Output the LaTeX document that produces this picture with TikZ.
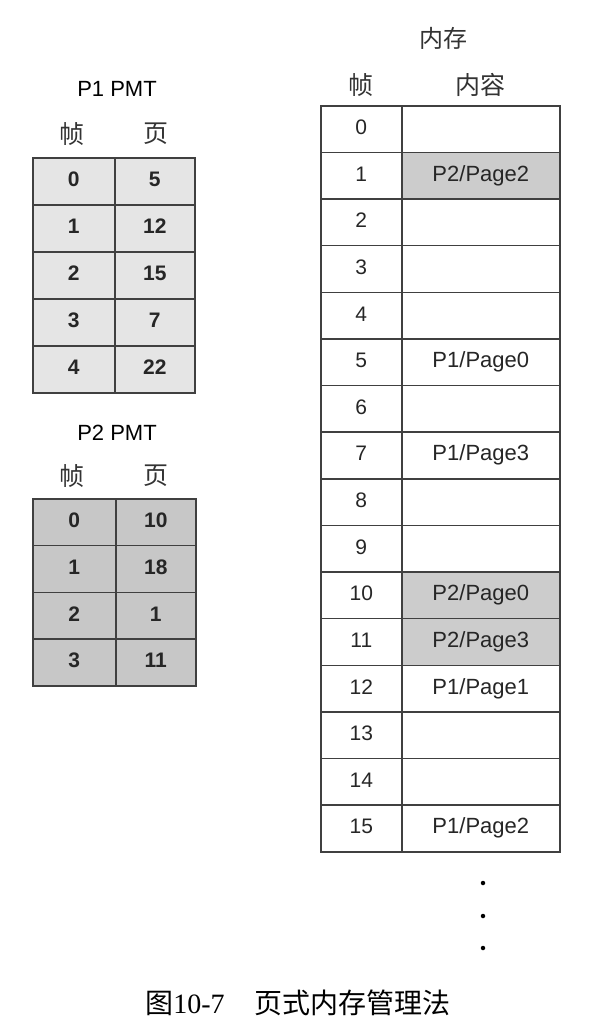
\documentclass[tikz,border=0pt]{standalone}
\usepackage{fontspec}
\setmainfont{Liberation Sans}
\newfontfamily\cjk{Noto Sans CJK SC}
\newfontfamily\capnum{Liberation Serif}
\definecolor{lineclr}{gray}{0.25}
\definecolor{pa}{gray}{0.9}
\definecolor{pb}{gray}{0.78}
\definecolor{mb}{gray}{0.8}
\newcommand{\myslash}{/}
\begin{document}
\begin{tikzpicture}[x=1pt,y=-1pt,
  cell/.style={draw=lineclr, line width=1.6pt, inner sep=0pt, anchor=north west,
    text height=15pt, text depth=4pt, text=black!85},
  pmtA/.style={cell, fill=pa, minimum height=47pt, font=\bfseries\fontsize{21}{21}\selectfont},
  pmtB/.style={cell, fill=pb, minimum height=46.75pt, font=\bfseries\fontsize{21}{21}\selectfont},
  mem/.style={cell, minimum height=46.625pt, font=\fontsize{21}{21}\selectfont},
  title/.style={inner sep=0pt, font=\fontsize{22}{22}\selectfont},
  head/.style={inner sep=0pt, font=\cjk\fontsize{25}{25}\selectfont, text=black!80},
  dot/.style={circle, fill=black, inner sep=0pt, minimum size=4.5pt}]
\useasboundingbox (0,0) rectangle (608,1026);

% P1 PMT
\node[title] (p1t) at (117,89) {P1 PMT};
\node[head] (p1hf) at (72,134) {帧};
\node[head] (p1hp) at (156,134) {页};
\foreach \f/\p [count=\k from 0] in {0/5,1/12,2/15,3/7,4/22}{
  \node[pmtA, minimum width=82pt] (p1f\k) at (32,{157+47*\k}) {\f};
  \node[pmtA, minimum width=80pt] (p1p\k) at (114,{157+47*\k}) {\p};
}

% P2 PMT
\node[title] (p2t) at (117,433) {P2 PMT};
\node[head] (p2hf) at (72,476) {帧};
\node[head] (p2hp) at (156,476) {页};
\foreach \f/\p [count=\k from 0] in {0/10,1/18,2/1,3/11}{
  \node[pmtB, minimum width=83pt] (p2f\k) at (32,{498+46.75*\k}) {\f};
  \node[pmtB, minimum width=80pt] (p2p\k) at (115,{498+46.75*\k}) {\p};
}

% Memory
\node[head, font=\cjk\fontsize{24}{24}\selectfont] (memt) at (443,38) {内存};
\node[head] (memhf) at (361,85) {帧};
\node[head] (memhc) at (480,85) {内容};
\foreach \txt/\clr [count=\k from 0] in {
  /white, P2\myslash Page2/mb, /white, /white, /white, P1\myslash Page0/white, /white, P1\myslash Page3/white,
  /white, /white, P2\myslash Page0/mb, P2\myslash Page3/mb, P1\myslash Page1/white, /white, /white, P1\myslash Page2/white}{
  \node[mem, minimum width=81pt] (mf\k) at (320,{105+46.625*\k}) {\k};
  \node[mem, minimum width=158pt, fill=\clr, font=\fontsize{22}{22}\selectfont] (mc\k) at (401,{105+46.625*\k}) {\txt};
}

% continuation dots
\node[dot] (d1) at (483,883) {};
\node[dot] (d2) at (483,916) {};
\node[dot] (d3) at (483,948) {};

% caption
\node[inner sep=0pt, font=\fontsize{28}{28}\selectfont] (cap) at (298,1003)
  {\cjk 图\capnum 10-7\hspace{30pt}\cjk 页式内存管理法};
\end{tikzpicture}
\end{document}
